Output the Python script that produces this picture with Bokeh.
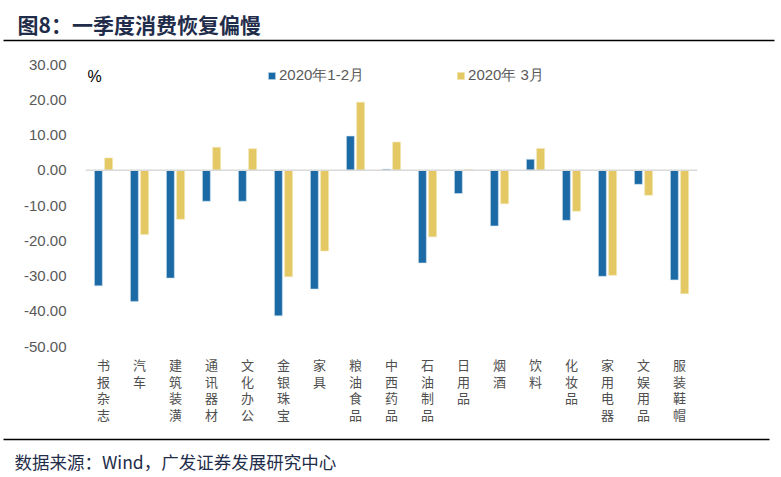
from bokeh.plotting import figure
from bokeh.layouts import column, row
from bokeh.models import (ColumnDataSource, Span, Label, Legend, LegendItem,
                          FixedTicker, NumeralTickFormatter, Range1d)
from bokeh.transform import dodge
from bokeh.core.properties import value
from bokeh.embed import file_html
from bokeh.resources import INLINE

categories = ["书报杂志", "汽车", "建筑装潢", "通讯器材", "文化办公", "金银珠宝", "家具",
              "粮油食品", "中西药品", "石油制品", "日用品", "烟酒", "饮料", "化妆品",
              "家用电器", "文娱用品", "服装鞋帽"]
series_names = ["2020年1-2月", "2020年 3月"]
jan_feb = [-32.8, -37.2, -30.6, -8.8, -8.8, -41.3, -33.7, 9.7, 0.3, -26.3, -6.6,
           -15.8, 3.1, -14.2, -30.1, -4.0, -31.1]
march = [3.5, -18.2, -13.9, 6.5, 6.1, -30.2, -22.9, 19.3, 8.0, -18.9, 0.2,
         -9.5, 6.2, -11.6, -29.8, -7.1, -35.0]
y_ticks = [-50, -40, -30, -20, -10, 0, 10, 20, 30]

title_text = "图8：一季度消费恢复偏慢"
source_text = "数据来源：Wind，广发证券发展研究中心"
unit_text = "%"

BLUE = "#1b6aa5"
YELLOW = "#e3c864"
NAVY = "#1f2d4a"
CJK = "Noto Sans CJK SC"
LAT = "Liberation Sans"
W = 775
BL, BR = 85, 78


def bare(fig):
    fig.outline_line_color = None
    fig.xgrid.grid_line_color = None
    fig.ygrid.grid_line_color = None
    return fig


# ---- header ----
HT = 47
top = bare(figure(width=W, height=HT, x_range=Range1d(0, W), y_range=Range1d(HT, 0),
                  x_axis_type=None, y_axis_type=None, output_backend="svg",
                  toolbar_location=None, min_border=0, title=None))
top.text(x=[17], y=[23], text=[title_text], text_font=value(CJK),
         text_font_size="21px", text_font_style="bold", text_color=NAVY,
         text_baseline="middle", text_align="left")
top.segment(x0=[3], x1=[W - 1], y0=[40], y1=[40], line_color="black", line_width=1.4)

# ---- main chart ----
src = ColumnDataSource(data=dict(cat=categories, a=jan_feb, b=march))
p = bare(figure(width=W, height=308, x_range=categories, y_range=(-50, 30),
                output_backend="svg", toolbar_location=None, title=None,
                min_border_left=BL, min_border_right=BR, min_border_top=17,
                min_border_bottom=9))
p.x_range.range_padding = 0

r1 = p.vbar(x=dodge("cat", -0.142, range=p.x_range), top="a", bottom=0, width=0.22,
            source=src, fill_color=BLUE, line_color="#cfe0ee", line_width=0.6)
r2 = p.vbar(x=dodge("cat", 0.142, range=p.x_range), top="b", bottom=0, width=0.22,
            source=src, fill_color=YELLOW, line_color="#f3e6b4", line_width=0.6)

p.add_layout(Span(location=0, dimension="width", line_color="#d9d9d9", line_width=1.5))

ya = p.yaxis[0]
ya.ticker = FixedTicker(ticks=y_ticks)
ya.formatter = NumeralTickFormatter(format="0.00")
ya.axis_line_color = None
ya.major_tick_line_color = None
ya.minor_tick_line_color = None
ya.major_label_text_font = LAT
ya.major_label_text_font_size = "15px"
ya.major_label_text_color = "#595959"
ya.major_label_standoff = 13
p.xaxis.visible = False

legend = Legend(items=[LegendItem(label=series_names[0], renderers=[r1]),
                       LegendItem(label=series_names[1], renderers=[r2])],
                orientation="horizontal", location=(182, 261), spacing=92,
                padding=0, margin=0, glyph_width=9, glyph_height=9,
                label_standoff=3, label_text_font=LAT, label_text_font_size="15px",
                label_text_color="#595959", background_fill_alpha=0,
                border_line_color=None)
p.add_layout(legend)
p.add_layout(Label(x=2, y=270, x_units="screen", y_units="screen", text=unit_text,
                   text_font=LAT, text_font_size="16px", text_color="black",
                   text_baseline="middle"))

# ---- category labels (vertical, one char per line) ----
LH = 76
lab_x, lab_y, lab_t = [], [], []
for c in categories:
    for i, ch in enumerate(c):
        lab_x.append(c)
        lab_y.append(i)
        lab_t.append(ch)
labs = bare(figure(width=W, height=LH, x_range=p.x_range,
                   y_range=Range1d((LH - 9) / 16.7, -9 / 16.7),
                   x_axis_type=None, y_axis_type=None, output_backend="svg",
                   toolbar_location=None, min_border_left=BL, min_border_right=BR,
                   min_border_top=0, min_border_bottom=0, title=None))
labs.text(x=lab_x, y=lab_y, text=lab_t, text_font=value(CJK), text_font_size="13px",
          text_color="#4f4f4f", text_align="center", text_baseline="middle")

# ---- footer ----
FH = 44
bot = bare(figure(width=W, height=FH, x_range=Range1d(0, W), y_range=Range1d(FH, 0),
                  x_axis_type=None, y_axis_type=None, output_backend="svg",
                  toolbar_location=None, min_border=0, title=None))
bot.segment(x0=[3], x1=[769], y0=[8], y1=[8], line_color="black", line_width=1.4)
bot.text(x=[14], y=[30], text=[source_text], text_font=value(CJK),
         text_font_size="17.5px", text_color=NAVY,
         text_baseline="middle", text_align="left")

layout = column(row(top), row(p), row(labs), row(bot), spacing=0)
open("out.html", "w").write(file_html(layout, INLINE))
